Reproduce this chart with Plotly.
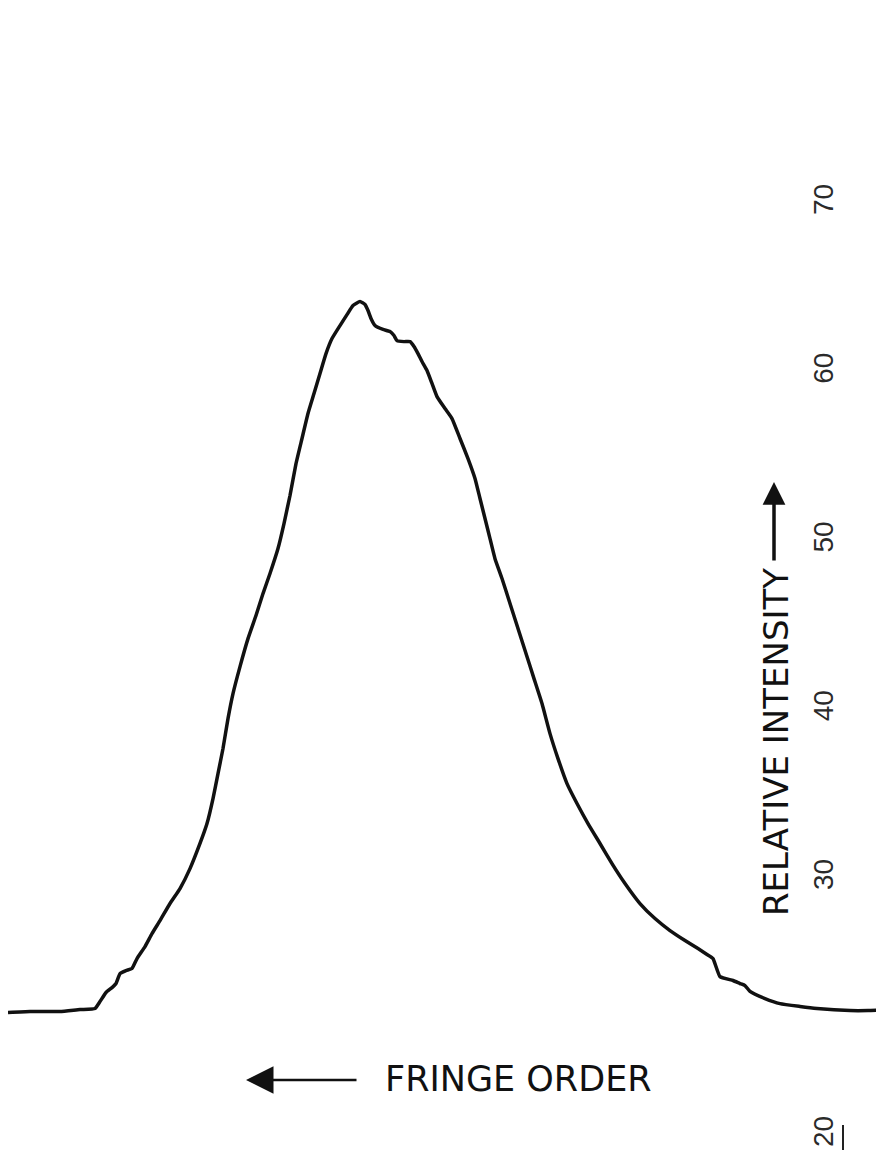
import plotly.graph_objects as go

# scan position (arbitrary units along fringe order) and relative intensity
position = [0.8, 3.0, 6.0, 8.0, 9.5, 10.0, 10.6, 11.2, 11.6, 12.0, 12.6, 13.2, 13.7, 14.5, 15.2,
            16.0, 17.0, 18.0, 19.0, 20.0, 20.7, 21.3, 21.8, 22.3, 22.8, 23.3, 24.0, 24.8, 25.6,
            26.3, 27.0, 27.8, 28.4, 29.0, 29.6, 30.2, 30.8, 31.4, 32.0, 32.6, 33.2, 34.0, 34.7,
            35.3, 36.0, 36.5, 36.8, 37.1, 37.5, 38.3, 39.0, 39.4, 39.7, 40.4, 41.0, 41.4, 41.8,
            42.2, 42.7, 43.2, 43.7, 44.5, 45.2, 46.0, 46.8, 47.5, 48.0, 48.5, 49.0, 49.5, 50.2,
            51.0, 51.8, 52.6, 53.4, 54.2, 55.0, 55.8, 56.7, 57.7, 58.8, 60.0, 61.2, 62.5, 64.0,
            65.5, 67.0, 68.5, 69.8, 70.7, 71.3, 72.0, 73.3, 74.0, 74.5, 75.0, 76.5, 78.0, 80.0,
            81.7, 85.0, 86.8, 89.2]
intensity = [22.06, 22.12, 22.12, 22.24, 22.30, 22.71, 23.25, 23.54, 23.78, 24.37, 24.55, 24.67,
             25.26, 25.97, 26.74, 27.51, 28.52, 29.41, 30.59, 32.08, 33.26, 34.74, 36.22, 37.71,
             39.48, 40.96, 42.56, 44.22, 45.59, 46.89, 48.08, 49.56, 51.04, 52.70, 54.59, 56.08,
             57.56, 58.74, 59.93, 61.11, 62.00, 62.77, 63.42, 63.96, 64.19, 64.02, 63.66, 63.19,
             62.77, 62.54, 62.42, 62.18, 61.88, 61.82, 61.82, 61.53, 61.11, 60.64, 60.11, 59.34,
             58.56, 57.85, 57.26, 56.08, 54.89, 53.71, 52.52, 51.34, 50.15, 48.96, 47.78, 46.30,
             44.82, 43.34, 41.85, 40.37, 38.59, 37.11, 35.63, 34.45, 33.26, 32.08, 30.89, 29.71,
             28.52, 27.63, 26.92, 26.33, 25.85, 25.50, 25.26, 24.19, 23.96, 23.78, 23.66, 23.31,
             22.89, 22.59, 22.42, 22.30, 22.18, 22.18, 22.24]

tick_values = [14.77, 30, 40, 50, 60, 70]
tick_labels = ["20", "30", "40", "50", "60", "70"]

FONT = "DejaVu Sans"
W, H = 884, 1175
OFF = 8  # page body margin


def px(x):
    return (x - OFF) / W


def py(y):
    return 1 - (y - OFF) / H


fig = go.Figure()
fig.add_trace(go.Scatter(x=position, y=intensity, mode="lines",
                         line=dict(color="#111111", width=3.5, shape="spline", smoothing=0.4),
                         hoverinfo="skip", showlegend=False))

fig.update_layout(
    width=W, height=H,
    margin=dict(l=0, r=0, t=0, b=0),
    paper_bgcolor="white", plot_bgcolor="white",
    xaxis=dict(range=[0.8, 89.2], visible=False, domain=[0, 1]),
    yaxis=dict(range=[11.96, 81.59], anchor="free", position=0.901, side="right",
               tickvals=tick_values, ticktext=tick_labels, tickangle=-90,
               showgrid=False, zeroline=False, showline=False, ticks="",
               tickfont=dict(family="Liberation Sans", size=28, color="#2a2a2a")),
    showlegend=False,
)

# axis titles
fig.add_annotation(text="RELATIVE INTENSITY", xref="paper", yref="paper",
                   x=px(776), y=py(742), xanchor="center", yanchor="middle",
                   textangle=-90, showarrow=False,
                   font=dict(family=FONT, size=34, color="#111111"))
fig.add_annotation(text="", xref="paper", yref="paper", x=px(774), y=py(482),
                   ax=0, ay=80, showarrow=True, arrowhead=2, arrowsize=1.3,
                   arrowwidth=3.5, arrowcolor="#111111")
fig.add_annotation(text="FRINGE ORDER", xref="paper", yref="paper",
                   x=px(519), y=py(1079), xanchor="center", yanchor="middle",
                   showarrow=False,
                   font=dict(family=FONT, size=35, color="#111111"))
fig.add_annotation(text="", xref="paper", yref="paper", x=px(246), y=py(1080),
                   ax=112, ay=0, showarrow=True, arrowhead=2, arrowsize=2.2,
                   arrowwidth=2.5, arrowcolor="#111111")
fig.add_shape(type="line", xref="paper", yref="paper", x0=px(843), x1=px(843),
              y0=py(1125), y1=py(1150), line=dict(color="#222222", width=2))

fig.write_html("out.html")
